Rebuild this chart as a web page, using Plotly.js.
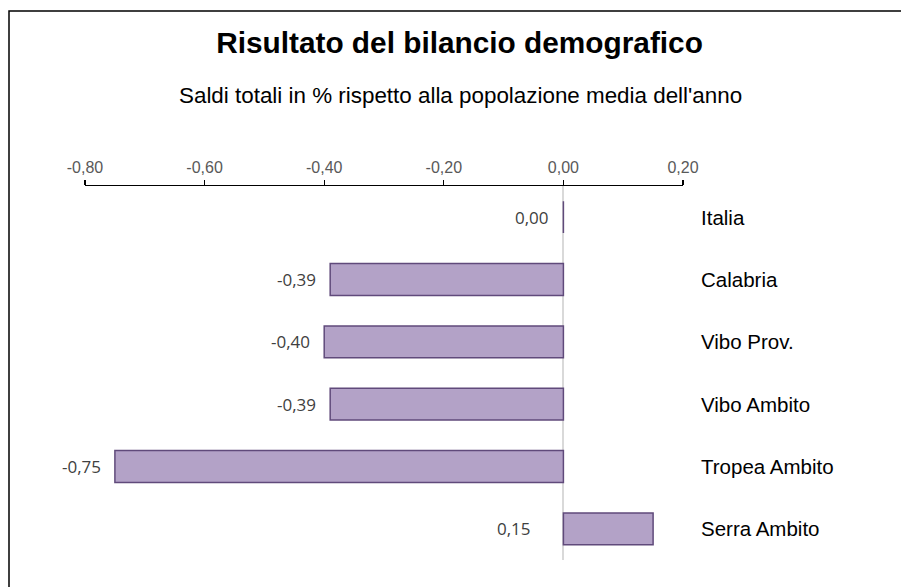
<!DOCTYPE html>
<html>
<head>
<meta charset="utf-8">
<script src="https://cdn.plot.ly/plotly-3.0.1.min.js"></script>
<style>html,body{margin:0;padding:0;background:#fff;}#chart{width:901px;height:587px;}</style>
</head>
<body>
<div id="chart"></div>
<script>
const categories = ["Italia", "Calabria", "Vibo Prov.", "Vibo Ambito", "Tropea Ambito", "Serra Ambito"];
const values = [0.00, -0.39, -0.40, -0.39, -0.75, 0.15];
const tickValues = [-0.8, -0.6, -0.4, -0.2, 0.0, 0.2];
const tickLabels = ["-0,80", "-0,60", "-0,40", "-0,20", "0,00", "0,20"];
const titleText = "Risultato del bilancio demografico";
const subtitleText = "Saldi totali in % rispetto alla popolazione media dell'anno";

const W = 901, H = 587;
const margin = {l: 85, r: 218, t: 186, b: 27};
const pw = W - margin.l - margin.r, ph = H - margin.t - margin.b;
function px2paperX(p) { return (p - margin.l) / pw; }
function px2paperY(p) { return (H - margin.b - p) / ph; }

const fmt = v => v.toFixed(2).replace('.', ',');

const annotations = [];
categories.forEach((c, i) => {
  annotations.push({
    xref: 'paper', yref: 'y', x: 1, y: c, xshift: 16,
    xanchor: 'left', yanchor: 'middle', showarrow: false, text: c,
    font: {family: 'Liberation Sans, Arial, sans-serif', size: 20.5, color: '#000000'}
  });
  const v = values[i];
  annotations.push({
    xref: 'x', yref: 'y', x: Math.min(0, v), y: c, xshift: v > 0 ? -30 : -12,
    xanchor: 'right', yanchor: 'middle', showarrow: false, text: fmt(v),
    font: {family: 'Open Sans, sans-serif', size: 17, color: '#404040'}
  });
});
annotations.push({
  xref: 'paper', yref: 'paper', x: px2paperX(460.5), y: px2paperY(96),
  xanchor: 'center', yanchor: 'middle', showarrow: false, text: subtitleText,
  font: {family: 'Liberation Sans, Arial, sans-serif', size: 22.4, color: '#000000'}
});

const trace = {
  type: 'bar', orientation: 'h', y: categories, x: values, width: 0.51,
  marker: {color: '#b3a2c7', line: {color: '#604a7b', width: 1.5}},
  hoverinfo: 'none'
};

const layout = {
  width: W, height: H, margin: margin,
  paper_bgcolor: '#ffffff', plot_bgcolor: '#ffffff',
  separators: ',.',
  showlegend: false,
  title: {
    text: '<b>' + titleText + '</b>', x: 459.5 / W, xref: 'container', xanchor: 'center',
    y: 1 - 43 / H, yref: 'container', yanchor: 'middle',
    font: {family: 'Liberation Sans, Arial, sans-serif', size: 29.8, color: '#000000'}
  },
  xaxis: {
    side: 'top', range: [-0.8, 0.2], tickvals: tickValues, ticktext: tickLabels,
    showline: true, linecolor: '#000000', linewidth: 1.3,
    ticks: 'outside', ticklen: 5, tickcolor: '#000000', tickwidth: 1.3,
    showgrid: false, zeroline: true, zerolinecolor: '#d9d9d9', zerolinewidth: 2,
    ticklabelstandoff: 0,
    tickfont: {family: 'Liberation Sans, Arial, sans-serif', size: 16, color: '#595959'},
    fixedrange: true
  },
  yaxis: {
    type: 'category', autorange: 'reversed', showticklabels: false,
    showline: false, showgrid: false, zeroline: false, ticks: '', fixedrange: true
  },
  annotations: annotations,
  shapes: [{
    type: 'rect', xref: 'paper', yref: 'paper', layer: 'above',
    x0: px2paperX(9), x1: px2paperX(940), y0: px2paperY(640), y1: px2paperY(11),
    line: {color: '#000000', width: 1.5}, fillcolor: 'rgba(0,0,0,0)'
  }]
};

Plotly.newPlot('chart', [trace], layout, {displayModeBar: false, staticPlot: true});
</script>
</body>
</html>
